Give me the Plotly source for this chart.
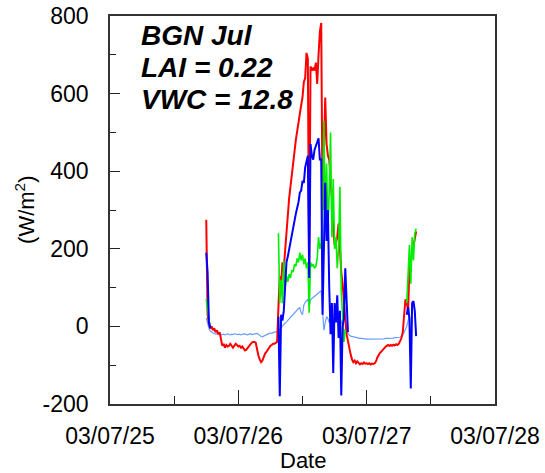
import pandas as pd
import plotly.graph_objects as go

# 15-minute records starting 2003-07-25 18:00 (None = missing record)
start_time = "2003-07-25 18:00"

net_radiation = [
    275, 30, 10, -5, 0, -10, -5, -15, -10, -20,
    -15, -30, -50, -45, -55, -48, -52, -50, -45, -50,
    -55, -50, -45, -48, -52, -50, -55, -52, -58, -62,
    -60, -55, -50, -45, -42, -40, -40, -42, -60, -75,
    -85, -92, -88, -78, -70, -66, -60, -55, -50, -48,
    -45, -45, -42, -40, 50, 130, 110, 165, 150, 200,
    250, 290, 330, 360, 395, 420, 450, 480, 505, 525,
    550, 570, 590, 630, 640, 705, 690, 140, 670, 660,
    665, 660, 680, 625, 700, 760, 782, 300, 450, 590,
    470, 440, 430, 380, 330, 250, 210, 215, 230, 265,
    180, 140, 110, 50, 20, -20, -40, -60, -72, -85,
    -92, -88, -95, -90, -95, -98, -95, -97, -93, -96,
    -95, -97, -95, -98, -96, -97, -95, -90, -80, -72,
    -68, -65, -60, -55, -53, -50, -48, -50, -48, -50,
    -47, -49, -46, -48, -45, -38, -30, -15, 30, 70,
    60, 40, 150, 170, 195, 215, 230, 245,
]

ground_heat = [
    22, 5, -5, -12, -15, -17, -18, -20, -19, -21,
    -20, -22, -21, -20, -22, -21, -19, -21, -22, -20,
    -21, -19, -20, -22, -21, -20, -22, -21, -19, -20,
    -21, -22, -20, -19, -21, -20, -18, -17, -18, -20,
    -24, -26, -27, -25, -22, -21, -19, -18, -17, -18,
    -16, -15, -15, -15, -12, -8, -3, 0, 5, 8,
    12, 15, 20, 22, 27, 30, 35, 38, 42, 46,
    48, 35, 30, 55, 62, 65, 70, 50, 68, 72,
    75, 78, 80, 82, 85, 88, 92, 40, -10, 10,
    25, 20, 10, 25, 18, 10, 22, 15, 12, 18,
    22, 12, 0, -8, -12, -16, -20, -22, -25, -26,
    -27, -28, -29, -30, -30, -31, -31, -32, -32, -32,
    -33, -33, -33, -33, -33, -33, -33, -33, -33, -33,
    -32, -32, -32, -32, -31, -31, -31, -30, -30, -30,
    -30, -29, -29, -29, -28, -28, -26, -22, -15, -8,
    0, 15, 30, None, None, None, None, None,
]

sensible_heat = (
    [190, 140, 10, -5]
    + [None] * 50
    + [25, -180, 30, 15, 40, 120,
       165, 180, 200, 215, 235, 250, 270, 290, 305, 320,
       345, 350, 375, 370, 410, 430, 440, 125, 470, 440,
       430, 455, 465, 470, 485, 430, 430, 30, 200, 370,
       220, 300, 100, -20, 60, -120, 60, 10, 80, -30,
       40, -178, 0, 20, 150, 45, -15]
    + [None] * 43
    + [30, 50, 20, -160, 60, 65, 40, -25]
)

latent_heat = (
    [70, 40, 15, 5]
    + [None] * 50
    + [240, 60, 120, 60, 170, 100,
       130, 115, 135, 125, 145, 140, 160, 155, 175, 165,
       190, 170, 185, 160, 175, 150, 165, 35, 165, 155,
       160, 150, 155, 175, 230, 200, 215, 300, 530, 280,
       420, 250, 350, 500, 230, 380, 200, 230, 150, 200,
       360, 90, 30, -40, -10]
    + [None] * 45
    + [60, 120, 210, 110, 230, 170, 240, 252]
)

x_tick_dates = ["2003-07-25", "2003-07-26", "2003-07-27", "2003-07-28"]
x_tick_text = ["03/07/25", "03/07/26", "03/07/27", "03/07/28"]
y_tick_vals = [-200, 0, 200, 400, 600, 800]
y_tick_text = ["-200", "0", "200", "400", "600", "800"]
site_lines = ["BGN Jul", "LAI = 0.22", "VWC = 12.8"]

times = pd.date_range(start_time, periods=len(net_radiation), freq="15min")

fig = go.Figure()
series = [
    (ground_heat, "#6a9cff", 1.2),
    (net_radiation, "#ff0000", 2),
    (latent_heat, "#00f000", 1.6),
    (sensible_heat, "#0000ff", 2),
]
for vals, color, width in series:
    fig.add_trace(go.Scatter(
        x=times, y=vals, mode="lines",
        line=dict(color=color, width=width),
        connectgaps=False, showlegend=False, hoverinfo="skip",
    ))

FONT = "Liberation Sans, Arial, sans-serif"
axis_font = dict(family=FONT, size=23, color="black")

fig.update_layout(
    width=545, height=473, autosize=False,
    margin=dict(l=110, r=50, t=16, b=69, pad=0, autoexpand=False),
    paper_bgcolor="white", plot_bgcolor="white",
    font=axis_font,
    showlegend=False,
    xaxis=dict(
        type="date", automargin=False,
        range=[x_tick_dates[0], x_tick_dates[-1]],
        tickmode="array", tickvals=x_tick_dates, ticktext=x_tick_text,
        ticks="inside", ticklen=14, tickwidth=1, tickcolor="#222",
        minor=dict(ticks="inside", ticklen=8, tickwidth=1, tickcolor="#222",
                   dtick=43200000, tick0="2003-07-25"),
        showline=True, linecolor="#333", linewidth=1.5, mirror=True,
        showgrid=False, zeroline=False,
        tickfont=axis_font, ticklabelstandoff=11,
    ),
    yaxis=dict(
        automargin=False,
        range=[-200, 800],
        tickmode="array", tickvals=y_tick_vals, ticktext=y_tick_text,
        ticks="inside", ticklen=10, tickwidth=1, tickcolor="#222",
        minor=dict(ticks="inside", ticklen=6, tickwidth=1, tickcolor="#222",
                   dtick=100, tick0=-200),
        showline=True, linecolor="#333", linewidth=1.5, mirror=True,
        showgrid=False, zeroline=False,
        tickfont=axis_font, ticklabelstandoff=15,
    ),
)

# Axis titles
fig.add_annotation(
    text="Date", xref="paper", yref="paper", x=0.5, y=-0.146,
    xanchor="center", yanchor="middle", showarrow=False,
    font=dict(family=FONT, size=22, color="black"),
)
fig.add_annotation(
    text="(W/m<sup>2</sup>)", xref="paper", yref="paper", x=-0.221, y=0.5,
    xanchor="center", yanchor="middle", textangle=-90, showarrow=False,
    font=dict(family=FONT, size=22, color="black"),
)

# Site description block
for line, ypos in zip(site_lines, [0.950, 0.868, 0.785]):
    fig.add_annotation(
        text=f"<b><i>{line}</i></b>", xref="paper", yref="paper",
        x=0.075, y=ypos, xanchor="left", yanchor="middle", showarrow=False,
        font=dict(family=FONT, size=28, color="black"),
    )

fig.write_html("out.html")
